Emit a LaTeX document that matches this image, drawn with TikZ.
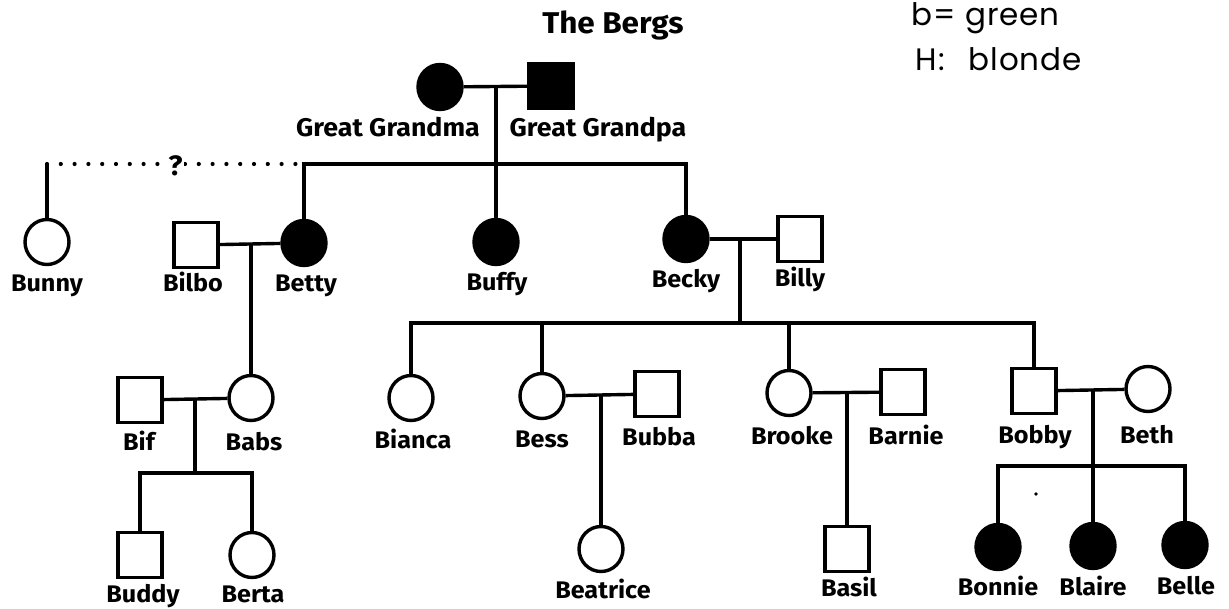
\documentclass[tikz,border=0pt]{standalone}
\usepackage{fontspec}
\setmainfont{Fira Sans}[FakeStretch=1.05]
\newfontfamily\handfont{Poppins}[LetterSpace=3]
\usetikzlibrary{shapes.geometric}
\begin{document}
\begin{tikzpicture}[x=1pt,y=-1pt,line width=3.4pt,line join=miter,
  fem/.style={ellipse,draw,minimum width=44pt,minimum height=45pt,inner sep=0pt},
  male/.style={rectangle,draw,minimum width=44pt,minimum height=45pt,inner sep=0pt},
  aff/.style={fill=black},
  lbl/.style={font=\fontsize{24}{26}\selectfont\bfseries,inner sep=0pt,anchor=base},
  biglbl/.style={lbl,font=\fontsize{25.5}{28}\selectfont\bfseries},
  ttl/.style={font=\fontsize{30}{32}\selectfont\bfseries,inner sep=0pt,anchor=base},
  hand/.style={font=\handfont\fontsize{31}{33}\selectfont,inner sep=0pt,anchor=base west},
  qmark/.style={fill=white,inner sep=1pt,font=\fontsize{28}{30}\selectfont\bfseries,yshift=-2pt},
  dots/.style={line width=4.2pt,dash pattern=on 0pt off 13.8pt,line cap=round}]
\useasboundingbox (0,0) rectangle (1229,609);
% title and notes
\node[ttl] (title) at (613,34) {The Bergs};
\node[hand] (note1) at (910,26) {b= green};
\node[hand] (note2) at (914,71) {H:\hspace{24pt}blonde};
% generation I
\node[fem,aff] (ggma) at (440,87) {};
\node[male,aff] (ggpa) at (551,86) {};
\node[biglbl] (ggmaL) at (388,137) {Great Grandma};
\node[biglbl] (ggpaL) at (598,137) {Great Grandpa};
\coordinate (m1) at (496,86);
\coordinate (s1) at (496,164);
% generation II
\node[fem] (bunny) at (47,242) {};
\node[male] (bilbo) at (196,245) {};
\node[fem,aff] (betty) at (304,243) {};
\node[fem,aff] (buffy) at (496,242) {};
\node[fem,aff] (becky) at (686,239) {};
\node[male] (billy) at (800,239) {};
\node[lbl] (bunnyL) at (47,292) {Bunny};
\node[lbl] (bilboL) at (193,292) {Bilbo};
\node[lbl] (bettyL) at (306,292) {Betty};
\node[lbl] (buffyL) at (497,291) {Buffy};
\node[lbl] (beckyL) at (686,288) {Becky};
\node[lbl] (billyL) at (800,287) {Billy};
\coordinate (bunnyTop) at (47,164);
% generation III
\node[male] (bif) at (140,400) {};
\node[fem] (babs) at (251,398) {};
\node[fem] (bianca) at (411,398) {};
\node[fem] (bess) at (542,396) {};
\node[male] (bubba) at (657,394) {};
\node[fem] (brooke) at (789,393) {};
\node[male] (barnie) at (903,392) {};
\node[male] (bobby) at (1034,391) {};
\node[fem] (beth) at (1148,389) {};
\node[lbl] (bifL) at (139,450) {Bif};
\node[lbl] (babsL) at (254,450) {Babs};
\node[lbl] (biancaL) at (413,448) {Bianca};
\node[lbl] (bessL) at (542,447) {Bess};
\node[lbl] (bubbaL) at (659,446) {Bubba};
\node[lbl] (brookeL) at (792,445) {Brooke};
\node[lbl] (barnieL) at (906,445) {Barnie};
\node[lbl] (bobbyL) at (1035,443) {Bobby};
\node[lbl] (bethL) at (1147,443) {Beth};
\coordinate (c4) at (740,323);
% generation IV
\node[male] (buddy) at (140,555) {};
\node[fem] (berta) at (252,555) {};
\node[fem] (beatrice) at (601,549) {};
\node[male] (basil) at (847,549) {};
\node[fem,aff] (bonnie) at (998,547) {};
\node[fem,aff] (blaire) at (1093,546) {};
\node[fem,aff] (belle) at (1185,545) {};
\node[lbl] (buddyL) at (143,602) {Buddy};
\node[lbl] (bertaL) at (253,602) {Berta};
\node[lbl] (beatriceL) at (603,598) {Beatrice};
\node[lbl] (basilL) at (849,596) {Basil};
\node[lbl] (bonnieL) at (998,595) {Bonnie};
\node[lbl] (blaireL) at (1093,595) {Blaire};
\node[lbl] (belleL) at (1186,594) {Belle};
\coordinate (c3) at (195,473);
\coordinate (c5) at (1093,466);
\fill (1036,494) circle (1.8pt);
% connectors
\draw (ggma) -- (ggpa);
\draw (m1) -- (buffy.north);
\draw (betty.north) -- (betty.north |- s1) -- (becky.north |- s1) -- (becky.north);
\draw[dots] (bunnyTop) -- node[qmark]{?} (betty.north |- s1);
\draw (bunnyTop) -- (bunny.north);
\draw (bilbo) -- (betty);
\draw (babs.north |- bilbo.east) -- (babs.north);
\draw (becky) -- (billy);
\draw (becky.east -| c4) -- (c4);
\draw (bianca.north) -- (bianca.north |- c4) -- (bobby.north |- c4) -- (bobby.north);
\draw (bess.north |- c4) -- (bess.north);
\draw (brooke.north |- c4) -- (brooke.north);
\draw (bif) -- (babs);
\draw (bif.east -| c3) -- (c3);
\draw (buddy.north) -- (buddy.north |- c3) -- (berta.north |- c3) -- (berta.north);
\draw (bess) -- (bubba);
\draw (bess.east -| beatrice.north) -- (beatrice.north);
\draw (brooke) -- (barnie);
\draw (brooke.east -| basil.north) -- (basil.north);
\draw (bobby) -- (beth);
\draw (bobby.east -| c5) -- (c5);
\draw (bonnie.north) -- (bonnie.north |- c5) -- (belle.north |- c5) -- (belle.north);
\draw (c5) -- (blaire.north);
\end{tikzpicture}
\end{document}
